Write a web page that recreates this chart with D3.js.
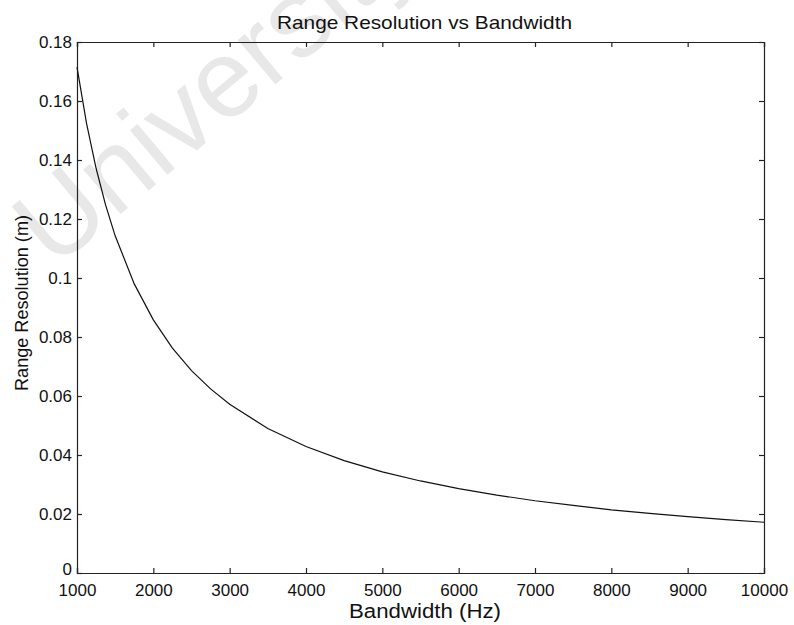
<!DOCTYPE html>
<html><head><meta charset="utf-8">
<script src="https://cdn.jsdelivr.net/npm/d3@7"></script>
<style>body{margin:0;background:#fff}svg{display:block}text{font-family:"Liberation Sans",Arial,sans-serif;fill:#111}</style>
</head><body>
<script>
const bandwidth = [1000,1125,1250,1375,1500,1750,2000,2250,2500,2750,3000,3500,4000,4500,5000,5500,6000,6500,7000,7500,8000,8500,9000,9500,10000];
const resolution = [0.1715,0.1524,0.1372,0.1247,0.1143,0.0980,0.0858,0.0762,0.0686,0.0624,0.0572,0.0490,0.0429,0.0381,0.0343,0.0312,0.0286,0.0264,0.0245,0.0229,0.0214,0.0202,0.0191,0.0181,0.0172];
const xTicks = [1000,2000,3000,4000,5000,6000,7000,8000,9000,10000];
const yTicks = [0,0.02,0.04,0.06,0.08,0.1,0.12,0.14,0.16,0.18];
const title = "Range Resolution vs Bandwidth";
const xLabel = "Bandwidth (Hz)";
const yLabel = "Range Resolution (m)";
const watermark = "University";

const W=794,H=625, L=77,T=42,R=764,B=573;
const svg=d3.select("body").append("svg").attr("width",W).attr("height",H);
// watermark
svg.append("text").attr("transform","translate(54,270) rotate(-40)")
  .attr("font-size",110).style("fill","#e8e8e8").text(watermark);

const x=d3.scaleLinear().domain([1000,10000]).range([L,R]);
const y=d3.scaleLinear().domain([0,0.18]).range([B,T]);
const fmt=d=>d===0?"0":String(+d.toFixed(2));

const gx=svg.append("g").attr("transform",`translate(0,${B})`)
  .call(d3.axisBottom(x).tickValues(xTicks).tickSize(-5).tickPadding(8).tickFormat(d3.format("d")));
const gxt=svg.append("g").attr("transform",`translate(0,${T})`)
  .call(d3.axisTop(x).tickValues(xTicks).tickSize(-5).tickFormat(""));
const gy=svg.append("g").attr("transform",`translate(${L},0)`)
  .call(d3.axisLeft(y).tickValues(yTicks).tickSize(-5).tickPadding(5).tickFormat(fmt));
const gyr=svg.append("g").attr("transform",`translate(${R},0)`)
  .call(d3.axisRight(y).tickValues(yTicks).tickSize(-5).tickFormat(""));
[gx,gxt,gy,gyr].forEach(g=>{
  g.selectAll("path,line").attr("stroke","#222").attr("stroke-width",1.2);
  g.selectAll("text").attr("font-size",17).style("fill","#111").attr("font-family","Liberation Sans, Arial, sans-serif");
});
gx.selectAll("text").attr("dy",null).attr("y",null).attr("transform","translate(0,23)");
gy.selectAll("text").attr("dy","0.35em");
gy.selectAll(".tick").filter(d=>d===0).select("text").attr("dy","0.1em");

const line=d3.line().x((d,i)=>x(bandwidth[i])).y(d=>y(d));
svg.append("path").datum(resolution).attr("d",line).attr("fill","none").attr("stroke","#111").attr("stroke-width",1.2);

svg.append("text").attr("x",(L+R)/2+4).attr("y",29).attr("text-anchor","middle").attr("font-size",19)
  .attr("textLength",295).attr("lengthAdjust","spacingAndGlyphs").text(title);
svg.append("text").attr("x",425).attr("y",618).attr("text-anchor","middle").attr("font-size",20)
  .attr("textLength",152).attr("lengthAdjust","spacingAndGlyphs").text(xLabel);
svg.append("text").attr("transform",`translate(28,303) rotate(-90)`).attr("text-anchor","middle").attr("font-size",19)
  .attr("textLength",176).attr("lengthAdjust","spacingAndGlyphs").text(yLabel);
</script>
</body></html>
